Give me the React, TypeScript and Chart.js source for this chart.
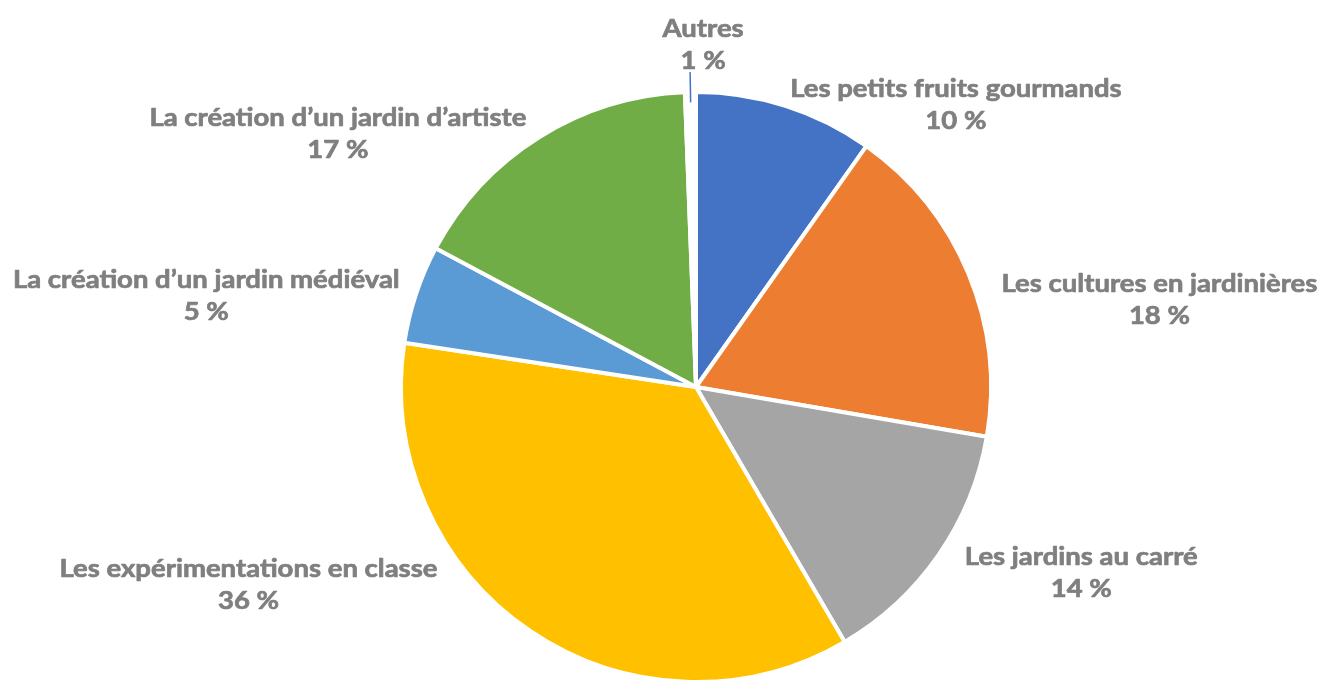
import React, { useEffect, useRef } from "react";
import { Chart, registerables } from "chart.js";

Chart.register(...registerables);

const categories = [
  "Les petits fruits gourmands",
  "Les cultures en jardinières",
  "Les jardins au carré",
  "Les expérimentations en classe",
  "La création d’un jardin médiéval",
  "La création d’un jardin d’artiste",
  "Autres",
];
const values = [9.8, 17.9, 13.9, 35.8, 5.4, 16.6, 0.6];
const colors = ["#4472C4", "#ED7D31", "#A5A5A5", "#FFC000", "#5B9BD5", "#70AD47", "#FFFFFF"];

// label block centres, in units of the pie radius, relative to the pie centre
const labelOffsets = [
  [0.881, -0.957],
  [1.571, -0.296],
  [1.306, 0.631],
  [-1.517, 0.67],
  [-1.66, -0.31],
  [-1.214, -0.858],
  [0.024, -1.158],
];
const leaderSlices = [6];

const FONT = "bold 25px Lato";
const TEXT_COLOR = "#7F7F7F";
const X_STRETCH = 1.1;
const HALF_LINE = 16;

const labelPlugin = {
  id: "outsideLabels",
  afterDraw(chart: any) {
    const ctx = chart.ctx;
    const meta = chart.getDatasetMeta(0);
    const total = values.reduce((a, b) => a + b, 0);
    ctx.save();
    meta.data.forEach((arc: any, i: number) => {
      const { x, y, outerRadius, startAngle, endAngle } = arc.getProps(
        ["x", "y", "outerRadius", "startAngle", "endAngle"],
        true
      );
      const [ox, oy] = labelOffsets[i];
      const lx = x + ox * outerRadius;
      const ly = y + oy * outerRadius;
      if (leaderSlices.includes(i)) {
        const mid = (startAngle + endAngle) / 2;
        ctx.strokeStyle = "#4472C4";
        ctx.lineWidth = 1.5;
        ctx.beginPath();
        ctx.moveTo(x + Math.cos(mid) * outerRadius * 0.965, y + Math.sin(mid) * outerRadius * 0.965);
        ctx.lineTo(x - 0.02 * outerRadius, y - 1.068 * outerRadius);
        ctx.stroke();
      }
      const pct = Math.round((values[i] / total) * 100) + " %";
      ctx.save();
      ctx.translate(lx, ly);
      ctx.scale(X_STRETCH, 1);
      ctx.font = FONT;
      ctx.fillStyle = TEXT_COLOR;
      ctx.strokeStyle = TEXT_COLOR;
      ctx.lineWidth = 0.7;
      ctx.lineJoin = "round";
      ctx.textAlign = "center";
      ctx.textBaseline = "middle";
      ctx.fillText(categories[i], 0, -HALF_LINE);
      ctx.strokeText(categories[i], 0, -HALF_LINE);
      ctx.fillText(pct, 0, HALF_LINE);
      ctx.strokeText(pct, 0, HALF_LINE);
      ctx.restore();
    });
    ctx.restore();
  },
};

export default function App() {
  const ref = useRef<HTMLCanvasElement | null>(null);
  useEffect(() => {
    document.body.style.margin = "0";
    document.documentElement.style.overflow = "hidden";
    let chart: Chart | null = null;
    let cancelled = false;
    const make = () => {
      if (cancelled || !ref.current) return;
      chart = new Chart(ref.current, {
        type: "pie",
        data: {
          labels: categories,
          datasets: [
            {
              data: values,
              backgroundColor: colors,
              borderColor: "#FFFFFF",
              borderWidth: 4,
            },
          ],
        },
        options: {
          responsive: false,
          animation: false,
          layout: { padding: { top: 90, bottom: 16, left: 370, right: 300 } },
          plugins: { legend: { display: false }, tooltip: { enabled: false } },
        },
        plugins: [labelPlugin],
      });
    };
    (document as any).fonts
      .load(FONT)
      .then(make)
      .catch(make);
    return () => {
      cancelled = true;
      if (chart) chart.destroy();
    };
  }, []);
  return (
    <div style={{ width: 1322, height: 680, overflow: "hidden", background: "#fff" }}>
      <canvas ref={ref} width={1322} height={700} style={{ display: "block" }} />
    </div>
  );
}
